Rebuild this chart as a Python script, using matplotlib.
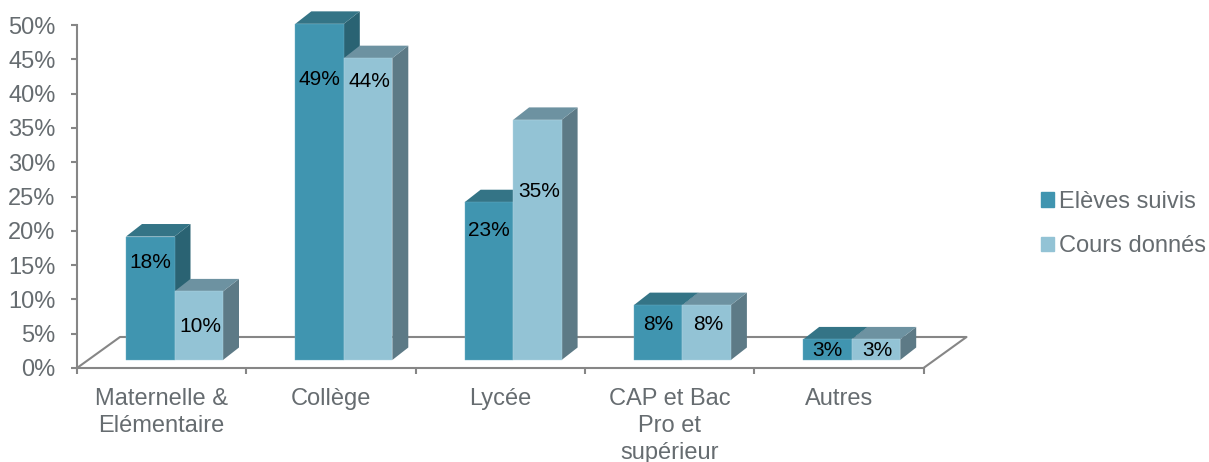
import numpy as np
import matplotlib
matplotlib.use('Agg')
import matplotlib.pyplot as plt
from matplotlib.patches import Patch

plt.rcParams['font.family'] = ['Liberation Sans', 'DejaVu Sans']

categories = ['Maternelle &\nElémentaire', 'Collège', 'Lycée', 'CAP et Bac\nPro et\nsupérieur', 'Autres']
eleves = [18, 49, 23, 8, 3]
cours = [10, 44, 35, 8, 3]
y_ticks = [0, 5, 10, 15, 20, 25, 30, 35, 40, 45, 50]

# where excel put the labels, how far below the top of the bar (in %)
drop_eleves = [2.6, 6.9, 2.9, 1.7, 0.4]
drop_cours = [4.0, 2.2, 9.3, 1.7, 0.4]

GREY = '#868686'
TXT = '#666C70'
W, H = 1209, 462

fig = plt.figure(figsize=(W / 100, H / 100), dpi=100)
ax = fig.add_axes([77 / W, 1 - 368 / H, (923.5 - 77) / W, (368 - 25) / H])
ax.set_xlim(0, 5)
ax.set_ylim(0, 50)

# fake 3d, all in data units (1 category = 169.3px, 1% = 6.86px)
floor_dx = 43 / 169.3
floor_dy = 31 / 6.86
bar_dx = 16 / 169.3
bar_dy = 12.5 / 6.86
bar_w = 48.5 / 169.3
start = 49 / 169.3
base = 8 / 6.86

# floor
fx = [0, floor_dx, 5 + floor_dx, 5]
fy = [0, floor_dy, floor_dy, 0]
ax.plot(fx, fy, color=GREY, lw=1.5, clip_on=False, zorder=1)


def bar3d(x, v, front, side, top, edge, z):
    x1 = x + bar_w
    y1 = base + v
    ax.fill([x1, x1 + bar_dx, x1 + bar_dx, x1], [base, base + bar_dy, y1 + bar_dy, y1],
            color=side, lw=0, clip_on=False, zorder=z)
    ax.fill([x, x1, x1 + bar_dx, x + bar_dx], [y1, y1, y1 + bar_dy, y1 + bar_dy],
            color=top, lw=0, clip_on=False, zorder=z)
    ax.bar(x, v, bar_w, bottom=base, align='edge', color=front, edgecolor=edge, lw=0.3,
           clip_on=False, zorder=z + 0.3)


for i in range(len(categories)):
    x = i + start
    bar3d(x, eleves[i], '#4095B0', '#2A6373', '#347486', '#6DB0C6', 2 + i)
    ax.text(x + bar_w / 2, eleves[i] - drop_eleves[i], '%d%%' % eleves[i], ha='center', va='center',
            fontsize=15, color='black', zorder=10, clip_on=False)
    x = x + bar_w
    bar3d(x, cours[i], '#93C3D5', '#5D7A86', '#6D92A1', '#B5D8E4', 2.6 + i)
    ax.text(x + bar_w / 2 + 0.01, cours[i] - drop_cours[i], '%d%%' % cours[i], ha='center', va='center',
            fontsize=15, color='black', zorder=10, clip_on=False)

for s in ['top', 'right']:
    ax.spines[s].set_visible(False)
for s in ['left', 'bottom']:
    ax.spines[s].set_color(GREY)
    ax.spines[s].set_linewidth(1.5)
    ax.spines[s].set_zorder(1.5)

ax.set_yticks(y_ticks)
ax.set_yticklabels(['%d%%' % t for t in y_ticks], fontsize=17, color=TXT)
ax.tick_params(axis='y', length=4.5, width=1.5, color=GREY, pad=11)

ax.set_xticks(np.arange(6))
ax.set_xticklabels([])
ax.tick_params(axis='x', which='major', length=4.5, width=1.5, color=GREY)
ax.set_xticks(np.arange(5) + 0.5, minor=True)
ax.set_xticklabels(categories, minor=True, fontsize=17, color=TXT, linespacing=1.3)
ax.tick_params(axis='x', which='minor', length=0, pad=14.5)

handles = [Patch(color='#4095B0', label='Elèves suivis'), Patch(color='#93C3D5', label='Cours donnés')]
fig.legend(handles=handles, loc='center left', bbox_to_anchor=(1041 / W, 1 - 224 / H), frameon=False,
           fontsize=17, labelcolor=TXT, handlelength=0.55, handleheight=0.55, handletextpad=0.2,
           labelspacing=0.95, borderpad=0, borderaxespad=0)

fig.savefig('out.png', dpi=100)
